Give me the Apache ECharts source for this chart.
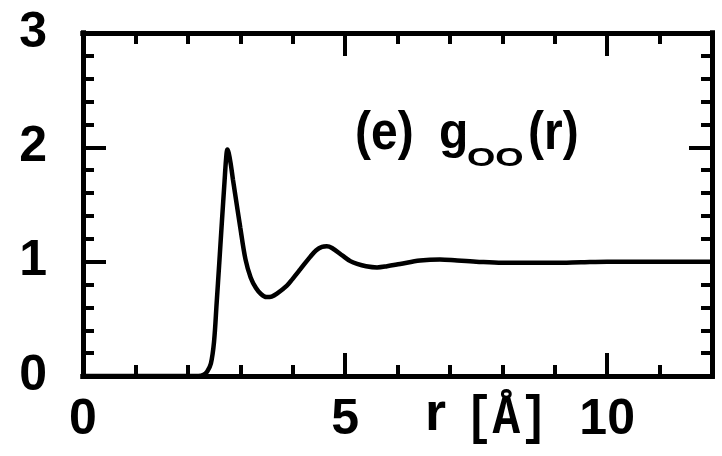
<!DOCTYPE html>
<html>
<head>
<meta charset="utf-8">
<script src="https://cdn.jsdelivr.net/npm/echarts@6/dist/echarts.min.js"></script>
<style>html,body{margin:0;padding:0;background:#fff}#c{width:722px;height:456px}</style>
</head>
<body>
<div id="c"></div>
<script>
// r in Angstrom
const rValues = [0, 1, 2, 2.2, 2.3, 2.37, 2.44, 2.5, 2.55, 2.6, 2.65, 2.7, 2.73, 2.755, 2.78, 2.82, 2.86, 2.9, 3.0, 3.1, 3.2, 3.3, 3.4, 3.5, 3.6, 3.7, 3.89, 4.0, 4.14, 4.33, 4.45, 4.56, 4.65, 4.75, 4.96, 5.1, 5.23, 5.4, 5.61, 5.8, 6.05, 6.43, 6.81, 7.14, 7.5, 8, 8.5, 9, 9.5, 10, 11, 12];
// g_OO(r)
const gValues = [0, 0, 0, 0, 0.01, 0.04, 0.11, 0.30, 0.64, 0.99, 1.35, 1.70, 1.90, 1.98, 1.95, 1.85, 1.72, 1.60, 1.30, 1.02, 0.86, 0.77, 0.715, 0.69, 0.695, 0.72, 0.79, 0.85, 0.93, 1.04, 1.10, 1.13, 1.135, 1.12, 1.05, 1.005, 0.98, 0.96, 0.95, 0.96, 0.98, 1.01, 1.02, 1.01, 1.0, 0.99, 0.99, 0.99, 0.995, 1.0, 1.0, 1.0];
const xTickLabels = ['0', '5', '10'];
const yTickLabels = ['0', '1', '2', '3'];
const annotation = ['(e)', 'g', 'OO', '(r)'];
const xAxisTitle = ['r', '[Å]'];

const data = rValues.map((r, i) => [r, gValues[i]]);
const black = '#000';
const labelFont = {fontFamily: 'Liberation Sans', fontWeight: 'bold', fontSize: 50, color: black};
const gridRect = {left: 83, right: 10, top: 33, bottom: 80, containLabel: false};

function xAxisDef(grid, pos, interval, len, withLabel) {
  return {
    gridIndex: grid, type: 'value', min: 0, max: 12, interval: interval, position: pos,
    axisLine: {show: true, onZero: false, lineStyle: {color: black, width: 5, cap: 'square'}},
    axisTick: {show: true, inside: true, length: len, lineStyle: {color: black, width: 4}},
    axisLabel: withLabel ? Object.assign({
      show: true, margin: 19,
      formatter: v => xTickLabels.indexOf(String(v)) >= 0 ? String(v) : ''
    }, labelFont) : {show: false},
    splitLine: {show: false}
  };
}
function yAxisDef(grid, pos, interval, len, withLabel) {
  return {
    gridIndex: grid, type: 'value', min: 0, max: 3, interval: interval, position: pos,
    axisLine: {show: true, onZero: false, lineStyle: {color: black, width: 5, cap: 'square'}},
    axisTick: {show: true, inside: true, length: len, lineStyle: {color: black, width: 4}},
    axisLabel: withLabel ? Object.assign({
      show: true, margin: 36,
      formatter: v => yTickLabels.indexOf(String(v)) >= 0 ? String(v) : ''
    }, labelFont) : {show: false},
    splitLine: {show: false}
  };
}

const chart = echarts.init(document.getElementById('c'), null, {renderer: 'canvas'});
chart.setOption({
  backgroundColor: '#fff',
  animation: false,
  grid: [Object.assign({}, gridRect), Object.assign({}, gridRect)],
  xAxis: [
    xAxisDef(0, 'bottom', 1, 11, false),
    xAxisDef(0, 'top', 1, 11, false),
    xAxisDef(1, 'bottom', 5, 23, true),
    xAxisDef(1, 'top', 5, 23, false)
  ],
  yAxis: [
    yAxisDef(0, 'left', 0.2, 11, false),
    yAxisDef(0, 'right', 0.2, 11, false),
    yAxisDef(1, 'left', 1, 23, true),
    yAxisDef(1, 'right', 1, 23, false)
  ],
  series: [{
    type: 'line', xAxisIndex: 0, yAxisIndex: 0, data: data,
    showSymbol: false, smooth: 0.35,
    lineStyle: {color: black, width: 4.5}
  }],
  graphic: [
    {type: 'text', x: 355, y: 134, scaleY: 1.12, style: {text: annotation[0], font: 'bold 48px "Liberation Sans"', fill: black, align: 'left', verticalAlign: 'middle'}},
    {type: 'text', x: 439, y: 134, scaleY: 1.05, style: {text: annotation[1], font: 'bold 48px "Liberation Sans"', fill: black, align: 'left', verticalAlign: 'middle'}},
    {type: 'text', x: 467, y: 159, scaleX: 1.4, style: {text: annotation[2], font: 'bold 26px "Liberation Sans"', fill: black, align: 'left', verticalAlign: 'middle'}},
    {type: 'text', x: 528, y: 134, scaleY: 1.12, style: {text: annotation[3], font: 'bold 48px "Liberation Sans"', fill: black, align: 'left', verticalAlign: 'middle'}},
    {type: 'text', x: 425, y: 415, style: {text: xAxisTitle[0], font: 'bold 54px "Liberation Sans"', fill: black, align: 'left', verticalAlign: 'middle'}},
    {type: 'text', x: 465, y: 420, scaleY: 1.15, style: {text: xAxisTitle[1], font: 'bold 46px "Liberation Mono"', fill: black, align: 'left', verticalAlign: 'middle'}}
  ]
});
</script>
</body>
</html>
